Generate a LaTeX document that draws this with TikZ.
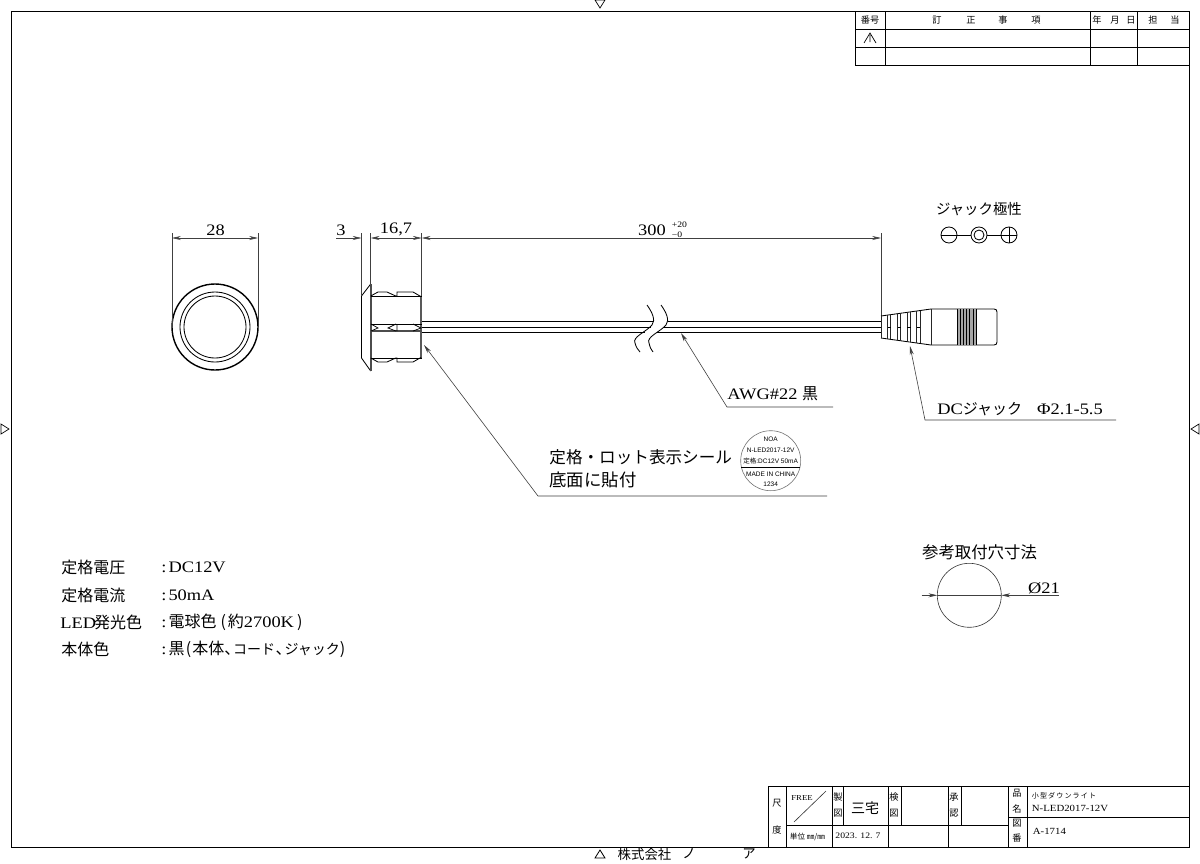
\documentclass[tikz,border=0pt]{standalone}
\usepackage{fontspec}
\usetikzlibrary{arrows.meta}
\setmainfont[FakeStretch=1.15]{Liberation Serif}
\newfontfamily\jf{Noto Sans CJK JP}
\newfontfamily\lsans{Liberation Sans}
\newcommand{\fs}[1]{\fontsize{#1}{#1}\selectfont}
\newcommand{\pk}{\kern-3.6pt }
\tikzset{
 x=0.5pt,y=-0.5pt,
 frame/.style={line width=0.5pt,black},
 thin line/.style={line width=0.3pt,black!80},
 part/.style={line width=0.42pt,black},
 dimline/.style={line width=0.3pt,black!75},
 tip/.style={-{Stealth[length=4.4pt,width=2pt]}},
 both tip/.style={{Stealth[length=4.4pt,width=2pt]}-{Stealth[length=4.4pt,width=2pt]}},
 lbl/.style={inner sep=0pt,font=\fs{8}},
 jl/.style={inner sep=0pt,font=\jf\fs{8}},
 tiny/.style={inner sep=0pt,font=\jf\fs{4.6}},
 sm/.style={inner sep=0pt,font=\fs{4.7}},
 seal/.style={inner sep=0pt,font=\lsans\fs{3.25}},
}
\begin{document}
\begin{tikzpicture}
\useasboundingbox (0,0) rectangle (1200,863);
\fill[white] (0,0) rectangle (1200,863);
% sheet frame and centre marks
\draw[frame] (11,11) rectangle (1189,847);
\draw[line width=0.35pt] (595,0) -- (605,0) -- (600,8) -- cycle;
\draw[line width=0.35pt] (1,424) -- (1,434) -- (9,429) -- cycle;
\draw[line width=0.35pt] (1199,424) -- (1199,434) -- (1191,429) -- cycle;
% revision table
\draw[frame] (855,11) rectangle (1189,65);
\draw[frame] (855,29) -- (1189,29) (855,47) -- (1189,47);
\draw[frame] (885,11) -- (885,65) (1090,11) -- (1090,65) (1137,11) -- (1137,65);
\node[tiny] (h1) at (870,20) {番号};
\node[tiny] (h2) at (937,20) {訂};
\node[tiny] (h3) at (971,20) {正};
\node[tiny] (h4) at (1003,20) {事};
\node[tiny] (h5) at (1036,20) {項};
\node[tiny] (h6) at (1097,20) {年};
\node[tiny] (h7) at (1115,20) {月};
\node[tiny] (h8) at (1131,20) {日};
\node[tiny] (h9) at (1153,20) {担};
\node[tiny] (h10) at (1175,20) {当};
\draw[line width=0.35pt] (864,43) -- (870,33) -- (876,43) (870,35) -- (870,42);
% title block
\draw[frame] (768,786) rectangle (1189,847);
\draw[frame] (786,786) -- (786,847) (832,786) -- (832,847) (843,786) -- (843,825)
 (888,786) -- (888,847) (901,786) -- (901,825) (948,786) -- (948,847) (961,786) -- (961,825)
 (1008,786) -- (1008,847) (1027,786) -- (1027,847) (786,825) -- (1008,825) (1008,817) -- (1189,817);
\draw[thin line] (794,822) -- (826,791);
\node[tiny] (t1) at (777,803) {尺};
\node[tiny] (t2) at (777,830) {度};
\node[inner sep=0pt,font=\fs{3.8}] (t3) at (802,798) {FREE};
\node[inner sep=0pt,font=\jf\fs{3.8}] (t4) at (807.5,837) {単位 ㎜/㎜};
\node[tiny] (t5) at (838,797) {製};
\node[tiny] (t6) at (838,813) {図};
\node[jl,font=\jf\fs{7}] (t7) at (865,808) {三宅};
\node[tiny] (t8) at (894,797) {検};
\node[tiny] (t9) at (894,813) {図};
\node[tiny] (t10) at (954,797) {承};
\node[tiny] (t11) at (954,813) {認};
\node[tiny] (t12) at (1017,793) {品};
\node[tiny] (t13) at (1017,809) {名};
\node[tiny] (t14) at (1017,823) {図};
\node[tiny] (t15) at (1017,838) {番};
\node[inner sep=0pt,font=\fs{4.2}] (t16) at (858,836) {2023. 12. 7};
\node[inner sep=0pt,font=\jf\fs{3.5},anchor=west] (t17) at (1031.5,796) {小\,型\,ダ\,ウ\,ン\,ラ\,イ\,ト};
\node[sm,anchor=west] (t18) at (1031.5,808) {N-LED2017-12V};
\node[sm,anchor=west] (t19) at (1032.5,831) {A-1714};
% bottom company line
\draw[line width=0.4pt] (595,858) -- (605,858) -- (600,850) -- cycle;
\node[inner sep=0pt,font=\jf\fs{6.7}] (c1) at (644.5,854) {株式会社};
\node[inner sep=0pt,font=\jf\fs{6.7}] (c2) at (689,854) {ノ};
\node[inner sep=0pt,font=\jf\fs{6.7}] (c3) at (749,854) {ア};
% front view
\coordinate (fc) at (215,327);
\draw[line width=0.7pt] (fc) circle[radius=43];
\draw[part] (fc) circle[radius=35];
\draw[part] (fc) circle[radius=31];
\coordinate (d28a) at (172,238);
\coordinate (d28b) at (258,238);
\draw[dimline] (172,233) -- (172,327) (258,233) -- (258,327);
\draw[dimline,both tip] (d28a) -- (d28b);
\node[lbl] (n28) at (215.5,230.5) {28};
% side view : flange
\draw[part] (370.7,284) -- (361.5,296) -- (361.5,358) -- (370.7,371);
\draw[line width=0.9pt,black!70] (370.7,284) -- (370.7,371);
% side view : body
\draw[part] (370.7,296) -- (378,292) -- (387,292) -- (395.7,296) -- (397,296) -- (397,292) -- (413,292) -- (421.7,297);
\draw[part] (370.7,358) -- (378,362) -- (387,362) -- (395.7,358) -- (397,358) -- (397,362) -- (413,362) -- (421.7,357);
\draw[part] (370.7,296) -- (421.7,296) (370.7,358) -- (421.7,358);
\draw[line width=0.9pt,black!65] (421.3,297) -- (421.3,357);
\draw[part] (370.7,324) -- (421.7,324);
\draw[line width=0.8pt,black!70] (370.7,331) -- (421.7,331);
\draw[line width=0.35pt] (371,324) -- (378,328) -- (371,331) (396,324) -- (388,328) -- (396,331)
 (397,324) -- (397,331) (413,324) -- (421,328) -- (413,331);
% dimensions of side view
\draw[dimline] (361.5,233) -- (361.5,296) (370.7,233) -- (370.7,284) (421.7,233) -- (421.7,296) (881,233) -- (881,316);
\coordinate (d3a) at (336,238);
\coordinate (d3b) at (361.5,238);
\coordinate (d16a) at (370.7,238);
\coordinate (d16b) at (421.7,238);
\coordinate (d300b) at (881,238);
\draw[dimline,tip] (d3a) -- (d3b);
\draw[dimline,both tip] (d16a) -- (d16b);
\draw[dimline,both tip] (d16b) -- (d300b);
\node[lbl] (n3) at (341,230.5) {3};
\node[lbl] (n16) at (396,229.5) {16,7};
\node[lbl] (n300) at (652,230.5) {300};
\node[inner sep=0pt,font=\fs{4.2}] (n20) at (679.5,224.5) {+20};
\node[inner sep=0pt,font=\fs{4.2}] (n0) at (677,235) {−0};
% wires with break
\draw[part] (422,321.7) -- (654,321.7) (422,327.3) -- (651,327.3) (422,332.3) -- (645,332.3);
\draw[part] (668,321.7) -- (881,321.7) (664,327.3) -- (881,327.3);
\draw[line width=0.6pt] (657,332.3) -- (881,332.3);
\draw[part] (647,305) .. controls (652,312) and (656,320) .. (652,325) .. controls (646,332) and (632,337) .. (635,343) .. controls (636,347) and (638,350) .. (640,352);
\draw[part] (661,305) .. controls (666,312) and (670,320) .. (666,325) .. controls (660,332) and (646,337) .. (649,343) .. controls (650,347) and (651,350) .. (653,352);
% DC jack
\draw[part] (881,316) -- (931,309) -- (994,309) .. controls (996,309) and (997,310) .. (997,312)
 -- (997,342) .. controls (997,344) and (996,345) .. (994,345) -- (931,345) -- (881,338);
\foreach \x in {881,887.7,890.7,897.7,900.7,907.3,910.7,916.7,920,931}{
 \pgfmathsetmacro{\yt}{316-(\x-881)*0.14}
 \pgfmathsetmacro{\yb}{338+(\x-881)*0.14}
 \draw[line width=0.38pt,black!85] (\x,\yt) -- (\x,\yb);
}
\foreach \x/\w in {887.7/890.7,897.7/900.7,907.3/910.7,916.7/920}{
 \draw[line width=0.35pt] (\x,327.3) -- (\w,327.3);
}
\fill[black!35] (957,309) rectangle (976,345);
\foreach \x in {957,960.2,963.4,966.6,969.8,973,976}{
 \draw[line width=0.35pt] (\x,309) -- (\x,345);
}
% leaders
\coordinate (l1a) at (424,345);
\coordinate (l1b) at (538,496);
\coordinate (l1c) at (827,496);
\draw[dimline,tip] (l1c) -- (l1b) -- (l1a);
\coordinate (l2a) at (681,333);
\coordinate (l2b) at (727,407);
\coordinate (l2c) at (833,407);
\draw[dimline,tip] (l2c) -- (l2b) -- (l2a);
\coordinate (l3a) at (910,346);
\coordinate (l3b) at (925,420);
\coordinate (l3c) at (1116,420);
\draw[dimline,tip] (l3c) -- (l3b) -- (l3a);
\node[lbl,anchor=west] (awg) at (727,394) {AWG\#22 {\jf\fs{8}黒}};
\node[lbl,anchor=west] (dcj) at (937,409) {DC{\jf\fs{7.5}ジャック}\hspace{7.5pt}Φ2.1-5.5};
% seal note
\node[jl,font=\jf\fs{8.3},anchor=west] (s1) at (549,457.5) {定格・ロット表示シール};
\node[jl,font=\jf\fs{8.7},anchor=west] (s2) at (549,480) {底面に貼付};
\draw[line width=0.3pt,black!55] (770.7,460.7) circle[radius=30];
\node[seal] (s3) at (770.7,439) {NOA};
\node[seal] (s4) at (770.7,450.5) {N-LED2017-12V};
\node[seal] (s5) at (770.7,461) {{\jf 定格}:DC12V 50mA};
\draw[line width=0.35pt] (741,467.5) -- (800,467.5);
\node[seal] (s6) at (770.7,474) {MADE IN CHINA};
\node[seal] (s7) at (770.7,484) {1234};
% polarity
\node[inner sep=0pt,font=\jf\fs{7.2}] (p0) at (979,209) {ジャック極性};
\draw[part] (949,235) circle[radius=8] (979,235) circle[radius=8] (979,235) circle[radius=5] (1009,235) circle[radius=8];
\draw[part] (941,235) -- (971,235) (987,235) -- (1017,235) (1009,227) -- (1009,243);
% mounting hole
\node[jl,font=\jf\fs{8.2}] (m0) at (979.5,552) {参考取付穴寸法};
\draw[thin line] (969.3,595.3) circle[radius=32];
\coordinate (m1) at (921.7,595.3);
\coordinate (m2) at (937.3,595.3);
\coordinate (m3) at (1001.3,595.3);
\coordinate (m4) at (1059,595.3);
\draw[dimline] (m2) -- (m3);
\draw[dimline,tip] (m1) -- (m2);
\draw[dimline,tip] (m4) -- (m3);
\node[lbl] (m5) at (1044,588) {Ø21};
% spec list
\node[jl,anchor=west] (a1) at (61,567.5) {定格電圧};
\node[jl,anchor=west] (a2) at (61,595) {定格電流};
\node[lbl,anchor=west] (a3) at (61,622) {\kern-.5pt LED\kern-1pt{\jf\fs{8}発光色}};
\node[jl,anchor=west] (a4) at (61,649) {本体色};
\node[lbl,anchor=west] (b1) at (161,567.5) {:\kern1pt DC12V};
\node[lbl,anchor=west] (b2) at (161,595) {:\kern1pt 50mA};
\node[lbl,anchor=west] (b3) at (161,622) {:\kern1pt{\jf\fs{8}電球色\kern2pt(\kern1pt約}2700K{\jf\fs{8}\kern1.5pt)}};
\node[lbl,anchor=west] (b4) at (161,649) {:\kern1pt{\jf\fs{8}黒\kern.7pt(\kern.5pt本体、\pk{\fs{7}コード}\kern.3pt、\pk{\fs{7}ジャック})}};
\end{tikzpicture}
\end{document}
